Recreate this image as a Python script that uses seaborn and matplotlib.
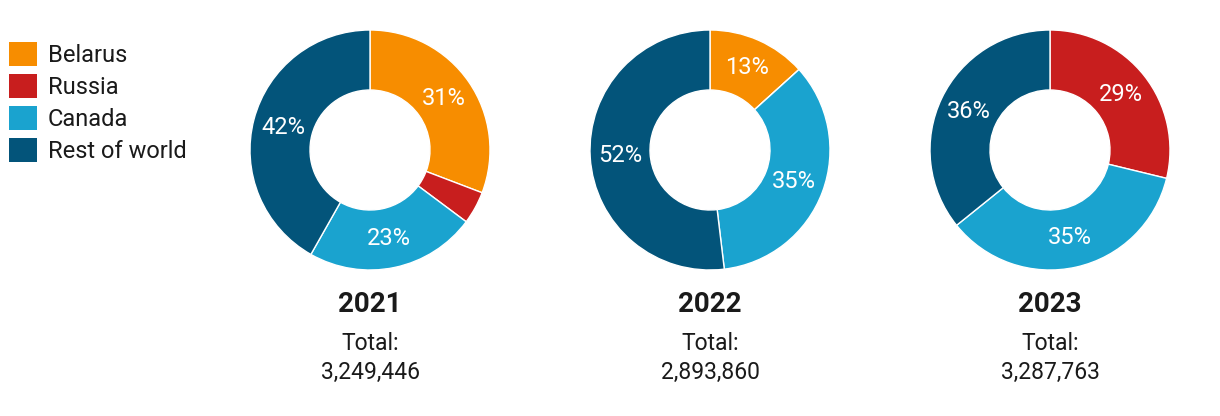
import numpy as np
import matplotlib.pyplot as plt
import seaborn as sns
from matplotlib.patches import Patch

sns.set_theme(style="white")
plt.rcParams['font.family'] = ['Roboto', 'DejaVu Sans']

categories = ["Belarus", "Russia", "Canada", "Rest of world"]
colors = ["#F78D00", "#C81E1E", "#1AA3CF", "#03547A"]
years = ["2021", "2022", "2023"]
totals = ["3,249,446", "2,893,860", "3,287,763"]
shares = {
    "2021": [30.8, 4.4, 23.0, 41.8],
    "2022": [13.3, 0.0, 34.8, 51.9],
    "2023": [0.0, 28.8, 35.4, 35.8],
}

W, H = 1220, 416
fig = plt.figure(figsize=(W / 100, H / 100), dpi=100)

centers = [370, 710, 1050]
R = 120
for yr, tot, cx in zip(years, totals, centers):
    ax = fig.add_axes([(cx - R) / W, (H - 150 - R) / H, 2 * R / W, 2 * R / H])
    vals = shares[yr]
    wedges, _ = ax.pie(vals, colors=colors, startangle=90, counterclock=False,
                       radius=1, wedgeprops=dict(width=0.5, edgecolor="white", linewidth=1))
    ang = 90.0
    tot_v = sum(vals)
    for v in vals:
        if v > 0:
            mid = ang - 360 * v / tot_v / 2
            if v >= 10:
                ax.text(0.75 * np.cos(np.radians(mid)), 0.75 * np.sin(np.radians(mid)),
                        f"{round(v)}%", ha="center", va="center", color="white", fontsize=17)
        ang -= 360 * v / tot_v
    ax.set_xlim(-1, 1)
    ax.set_ylim(-1, 1)
    ax.set_aspect("equal")
    ax.axis("off")
    ax.text(0, -1.29, yr, ha="center", va="center", fontsize=20, fontweight="bold",
            color="#1a1a1a", clip_on=False)
    ax.text(0, -1.61, "Total:", ha="center", va="center", fontsize=16.5, color="#1a1a1a", clip_on=False)
    ax.text(0, -1.855, tot, ha="center", va="center", fontsize=16.5, color="#1a1a1a", clip_on=False)

handles = [Patch(facecolor=c, edgecolor="none") for c in colors]
fig.legend(handles, categories, loc="upper left", bbox_to_anchor=(-0.008, 0.945), frameon=False,
           fontsize=17, handlelength=1.2, handleheight=1.2, handletextpad=0.45,
           labelspacing=0.3, borderpad=0.3, labelcolor="#1a1a1a")

fig.savefig("out.png", dpi=100, facecolor="white")
